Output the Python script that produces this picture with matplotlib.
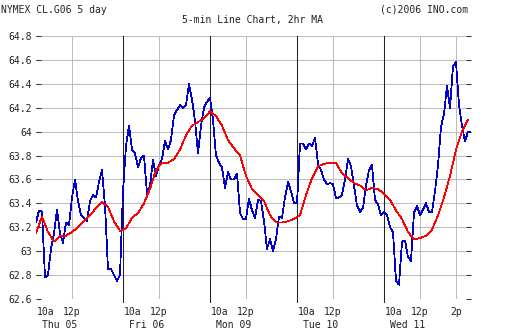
import numpy as np
import matplotlib
matplotlib.use('Agg')
import matplotlib.pyplot as plt

plt.rcParams['font.family'] = ['DejaVu Sans Mono']

# 5-min closes, every second bar (10 minutes), one list per trading day
day_names = ['Thu 05', 'Fri 06', 'Mon 09', 'Tue 10', 'Wed 11']
thu = [63.24, 63.34, 63.33, 62.78, 62.8, 63.02, 63.15, 63.35, 63.15, 63.07,
       63.24, 63.22, 63.45, 63.6, 63.42, 63.3, 63.28, 63.25, 63.42, 63.47,
       63.45, 63.58, 63.68, 63.38, 62.85, 62.85, 62.8, 62.75, 62.8]
fri = [63.5, 63.88, 64.05, 63.85, 63.82, 63.7, 63.78, 63.8, 63.48, 63.55,
       63.76, 63.63, 63.72, 63.77, 63.92, 63.85, 63.93, 64.14, 64.18, 64.22,
       64.2, 64.22, 64.4, 64.27, 64.09, 63.82, 64.05, 64.2, 64.25]
mon = [64.28, 64.1, 63.8, 63.74, 63.7, 63.53, 63.66, 63.6, 63.6, 63.65,
       63.32, 63.27, 63.27, 63.44, 63.34, 63.28, 63.43, 63.42, 63.25, 63.02,
       63.1, 63.0, 63.1, 63.29, 63.28, 63.45, 63.58, 63.5, 63.4]
tue = [63.4, 63.9, 63.9, 63.85, 63.9, 63.88, 63.95, 63.73, 63.68, 63.6,
       63.56, 63.57, 63.56, 63.44, 63.45, 63.47, 63.6, 63.77, 63.71, 63.55,
       63.38, 63.33, 63.36, 63.55, 63.68, 63.72, 63.43, 63.39, 63.3]
wed = [63.33, 63.3, 63.2, 63.16, 62.75, 62.72, 63.08, 63.09, 62.95, 62.92,
       63.32, 63.38, 63.3, 63.35, 63.4, 63.33, 63.33, 63.5, 63.72, 64.04,
       64.15, 64.38, 64.2, 64.55, 64.58, 64.22, 64.05, 63.92, 64.0, 64.0]

# 2hr moving average, every fourth bar
ma_2hr = [63.15, 63.29, 63.16, 63.08, 63.13, 63.13, 63.16, 63.2, 63.25, 63.3,
          63.36, 63.41, 63.37, 63.25, 63.17, 63.19, 63.28, 63.32, 63.4, 63.52,
          63.68, 63.74, 63.74, 63.77, 63.85, 63.97, 64.05, 64.08, 64.11, 64.17,
          64.13, 64.05, 63.93, 63.86, 63.8, 63.63, 63.52, 63.47, 63.42, 63.3,
          63.24, 63.24, 63.25, 63.27, 63.3, 63.47, 63.61, 63.71, 63.73, 63.74,
          63.74, 63.65, 63.61, 63.57, 63.55, 63.51, 63.53, 63.52, 63.48, 63.43,
          63.34, 63.27, 63.16, 63.1, 63.11, 63.13, 63.18, 63.3, 63.45, 63.63,
          63.85, 64.0, 64.1]

y_ticks = [62.6, 62.8, 63.0, 63.2, 63.4, 63.6, 63.8, 64.0, 64.2, 64.4, 64.6, 64.8]

BARS_PER_DAY = 58   # 10:00 .. ~14:50 in 5-min bars
NOON = 24           # bars from 10a to 12p
TWO_PM = 48

days = [thu, fri, mon, tue, wed]
x_price, y_price = [], []
for i, vals in enumerate(days):
    x_price.extend(i * BARS_PER_DAY + 2 * np.arange(len(vals)))
    y_price.extend(vals)
x_ma = 4 * np.arange(len(ma_2hr))

txt = '#222222'
fig = plt.figure(figsize=(5.12, 3.35), dpi=100)
ax = fig.add_axes([36 / 512, 36 / 335, 435 / 512, 263 / 335])
ax.set_xlim(0, 5 * BARS_PER_DAY)
ax.set_ylim(62.6, 64.8)
for s in ax.spines.values():
    s.set_visible(False)

ax.set_yticks(y_ticks)
ax.set_yticklabels([f'{v:g}' for v in y_ticks])
ax.tick_params(axis='y', direction='in', length=3.6, width=0.75, color='#333333',
               left=True, right=True, labelsize=7, labelcolor=txt, pad=3)
ax.set_xticks([])
ax.grid(axis='y', color='#bdbdbd', lw=0.75)
ax.set_axisbelow(True)

# noon gridlines, 2p on the last day, black lines at each new day
for i in range(5):
    ax.axvline(i * BARS_PER_DAY + NOON, color='#bdbdbd', lw=0.75, zorder=1)
ax.axvline(4 * BARS_PER_DAY + TWO_PM, color='#bdbdbd', lw=0.75, zorder=1)
for i in range(1, 5):
    ax.axvline(i * BARS_PER_DAY, ymin=-0.012, ymax=1, color='#222222', lw=0.75,
               zorder=2, clip_on=False)

ax.plot(x_price, y_price, color='#0000cc', lw=0.55, zorder=3, antialiased=False)
ax.plot(x_ma, ma_2hr, color='#ff0000', lw=0.55, zorder=4, antialiased=False)

# x labels
tr = ax.get_xaxis_transform()
for i, name in enumerate(day_names):
    d0 = i * BARS_PER_DAY
    ax.text(d0 + 0.3, -0.049, '10a', transform=tr, ha='left', va='center',
            fontsize=7, color=txt)
    ax.text(d0 + NOON, -0.049, '12p', transform=tr, ha='center', va='center',
            fontsize=7, color=txt)
    ax.text(d0 + 15.5, -0.1, name, transform=tr, ha='center', va='center',
            fontsize=7, color=txt)
ax.text(4 * BARS_PER_DAY + TWO_PM, -0.049, '2p', transform=tr, ha='center',
        va='center', fontsize=7, color=txt)

fig.text(1 / 512, 1 - 10 / 335, 'NYMEX CL.G06 5 day', ha='left', va='center',
         fontsize=7, color=txt)
fig.text(252 / 512, 1 - 20 / 335, '5-min Line Chart, 2hr MA', ha='center',
         va='center', fontsize=7, color=txt)
fig.text(468 / 512, 1 - 10 / 335, '(c)2006 INO.com', ha='right', va='center',
         fontsize=7, color=txt)

fig.savefig('out.png', dpi=100)
